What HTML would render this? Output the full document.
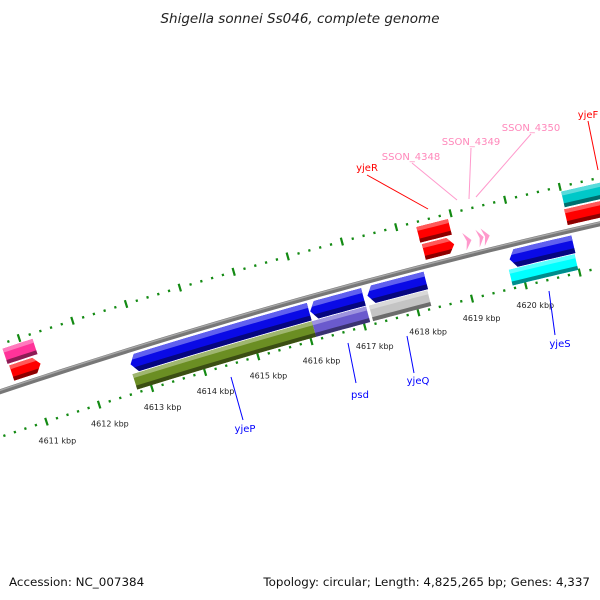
<!DOCTYPE html>
<html><head><meta charset="utf-8">
<style>
html,body{margin:0;padding:0;background:#fff;}
svg{display:block;font-family:"DejaVu Sans","Liberation Sans",sans-serif;}
</style></head>
<body>
<svg id="map" width="600" height="600" viewBox="0 0 600 600" xmlns="http://www.w3.org/2000/svg">
<defs id="defs"></defs>
<text x="300" y="23" text-anchor="middle" font-size="13.5" font-style="italic" fill="#222">Shigella sonnei Ss046, complete genome</text>
<g id="rulers"></g>
<g id="backbone"></g>
<g id="features"></g>
<g id="labels">
 <line x1="231" y1="377" x2="243" y2="420" stroke="#0000ff" stroke-width="1"/>
 <text x="245" y="432" text-anchor="middle" font-size="10" fill="#0000ff">yjeP</text>
 <line x1="348" y1="343" x2="356" y2="383" stroke="#0000ff" stroke-width="1"/>
 <text x="360" y="398" text-anchor="middle" font-size="10" fill="#0000ff">psd</text>
 <line x1="407" y1="336" x2="414" y2="373" stroke="#0000ff" stroke-width="1"/>
 <text x="418" y="384" text-anchor="middle" font-size="10" fill="#0000ff">yjeQ</text>
 <line x1="549" y1="291" x2="555" y2="335" stroke="#0000ff" stroke-width="1"/>
 <text x="560" y="347" text-anchor="middle" font-size="10" fill="#0000ff">yjeS</text>
 <line x1="367" y1="175" x2="428" y2="209" stroke="#ff0000" stroke-width="1"/>
 <text x="367" y="171" text-anchor="middle" font-size="10" fill="#ff0000">yjeR</text>
 <line x1="412" y1="163" x2="457" y2="200" stroke="#ff99cc" stroke-width="1"/>
 <text x="411" y="160" text-anchor="middle" font-size="10" fill="#ff88bb">SSON_4348</text>
 <line x1="471" y1="148" x2="469" y2="199" stroke="#ff99cc" stroke-width="1"/>
 <text x="471" y="145" text-anchor="middle" font-size="10" fill="#ff88bb">SSON_4349</text>
 <line x1="531" y1="134" x2="476" y2="197" stroke="#ff99cc" stroke-width="1"/>
 <text x="531" y="131" text-anchor="middle" font-size="10" fill="#ff88bb">SSON_4350</text>
 <line x1="588" y1="121" x2="598" y2="170" stroke="#ff0000" stroke-width="1"/>
 <text x="588" y="118" text-anchor="middle" font-size="10" fill="#ff0000">yjeF</text>
</g>
<text x="9" y="586" font-size="11.9" fill="#111">Accession: NC_007384</text>
<text x="590" y="586" text-anchor="end" font-size="11.9" fill="#111">Topology: circular; Length: 4,825,265 bp; Genes: 4,337</text>
</svg>
<script>
// ---- data ----
var tickLabelsKbp = [4611, 4612, 4613, 4614, 4615, 4616, 4617, 4618, 4619, 4620];
var tickStartBp = 4609600;
var tickEndBp = 4622400;
var tickStepBp = 200;
var featureNames = ["pink-left","red-left","yjeP-cds","yjeP-gene","psd-cds","psd-gene","yjeQ-cds","yjeQ-gene","yjeS-cds","yjeS-gene","yjeR-gene","yjeR-cds","SSON_4348","SSON_4349","SSON_4350","yjeF-gene","yjeF-cds"];
var featureStarts = [4610662,4610681,4612757,4612738,4616123,4616104,4617189,4617170,4619826,4619769,4618348,4618367,4619115,4619358,4619452,4621004,4620985];
var featureEnds   = [4611224,4611224,4616104,4616104,4617114,4617114,4618273,4618255,4621004,4620985,4618928,4618928,4619246,4619470,4619582,4621845,4621752];
var featureStrand = [1,1,-1,-1,-1,-1,-1,-1,-1,-1,1,1,1,1,1,1,1];
var featureLane   = [2,1,1,2,1,2,1,2,1,2,2,1,1,1,1,2,1];
var featureShape  = ["box","arrow","arrow","box","arrow","box","arrow","box","arrow","box","box","arrow","head","head","head","box","arrow"];
var featureColor  = ["#ff3399","#ff0000","#0a0ae6","#6b8e23","#0a0ae6","#6a5acd","#0a0ae6","#c4c4c4","#0a0ae6","#00ffff","#ff0000","#ff0000","#ff99cc","#ff99cc","#ff99cc","#00c8c8","#ff0000"];

// ---- geometry ----
var cx = 1997, cy = 6370, R = 6303;
var phiA = -Math.acos((152 - cx) / (R - 43));
var phiB = -Math.acos((205 - cx) / (R - 43));
var radPerBp = (phiB - phiA) / 1000;
function phi(bp){ return phiA + (bp - 4613000) * radPerBp; }
function P(bp, off){ var a = phi(bp), r = R + off; return [cx + r*Math.cos(a), cy + r*Math.sin(a)]; }
var NS = "http://www.w3.org/2000/svg";
function mk(tag, attrs, parent){ var e = document.createElementNS(NS, tag); for (var k in attrs) e.setAttribute(k, attrs[k]); parent.appendChild(e); return e; }
function ptsStr(pts){ return pts.map(function(p){return p[0].toFixed(2)+','+p[1].toFixed(2);}).join(' '); }
function band(b1, b2, oa, ob){ var pts=[]; for (var j=0;j<=10;j++) pts.push(P(b1+(b2-b1)*j/10, oa)); for (var j=10;j>=0;j--) pts.push(P(b1+(b2-b1)*j/10, ob)); return pts; }

// rulers
var rulers = document.getElementById('rulers');
[45, -43].forEach(function(ro){
  for (var bp = tickStartBp; bp <= tickEndBp; bp += tickStepBp) {
    var major = (bp % 1000 === 0);
    var h = major ? 4 : 1.2;
    var a = P(bp, ro - h), b = P(bp, ro + h);
    var t = mk('line', {x1:a[0], y1:a[1], x2:b[0], y2:b[1], stroke:'#138a13', 'stroke-width': 2.2}, rulers);
    
    
  }
});
tickLabelsKbp.forEach(function(kb){
  var p = P(kb*1000, -62);
  var t = mk('text', {x:p[0]+5, y:p[1]+4, 'text-anchor':'middle', 'font-size':8, fill:'#222'}, rulers);
  t.textContent = kb + ' kbp';
  
  
});

// backbone
var bb = document.getElementById('backbone');
function arcPath(b1, b2, off){ var s = ''; for (var i = 0; i <= 40; i++){ var p = P(b1 + (b2-b1)*i/40, off); s += (i?'L':'M') + p[0].toFixed(2) + ' ' + p[1].toFixed(2); } return s; }
var bbl = mk('path', {d: arcPath(tickStartBp, tickEndBp, 0), stroke:'#777', 'stroke-width':5, fill:'none'}, bb);


var bbh = mk('path', {d: arcPath(tickStartBp, tickEndBp, 1.3), stroke:'#a6a6a6', 'stroke-width':1.4, fill:'none'}, bb);



// features
var defs = document.getElementById('defs');
function shade(hex, f){ var n = parseInt(hex.slice(1),16); var r=(n>>16)&255,g=(n>>8)&255,b=n&255;
  function c(v){ return Math.max(0,Math.min(255,Math.round(f>0? v+(255-v)*f : v*(1+f)))); }
  return 'rgb('+c(r)+','+c(g)+','+c(b)+')'; }
var fg = document.getElementById('features');
var headBp = 110;
for (var i = 0; i < featureNames.length; i++){
  var col = featureColor[i];
  var s = featureStrand[i], lane = featureLane[i];
  var inner = lane === 1 ? 6 : 24, outer = inner + 16;
  var o1 = s * inner, o2 = s * outer, om = s * (inner + 8);
  var hi = Math.max(o1, o2), lo = Math.min(o1, o2);
  var b1 = featureStarts[i], b2 = featureEnds[i], pts = [];
  var shp = featureShape[i];
  if (shp === 'box'){
    pts = band(b1, b2, o1, o2);
  } else if (shp === 'head'){
    if (s > 0) pts = [P(b1, o1-1), P(b2, om), P(b1, o2+1), P(b1+(b2-b1)*0.35, om)];
    else pts = [P(b2, o1+1), P(b1, om), P(b2, o2-1), P(b2-(b2-b1)*0.35, om)];
  } else {
    if (s > 0){
      var e = b2 - headBp;
      for (var j=0;j<=10;j++) pts.push(P(b1+(e-b1)*j/10, o1));
      pts.push(P(b2, om));
      for (var j=10;j>=0;j--) pts.push(P(b1+(e-b1)*j/10, o2));
    } else {
      var st = b1 + headBp;
      for (var j=0;j<=10;j++) pts.push(P(st+(b2-st)*j/10, o1 + 1));
      pts.push(P(b2, o1 + 1)); pts.push(P(b2, o2 - 1));
      for (var j=10;j>=0;j--) pts.push(P(st+(b2-st)*j/10, o2 - 1));
      pts.push(P(b1, om));
    }
  }
  var cp = mk('clipPath', {id:'c'+i}, defs);
  mk('polygon', {points: ptsStr(pts)}, cp);
  var g = mk('g', {}, fg);
  
  
  mk('polygon', {points: ptsStr(pts), fill: col}, g);
  if (shp !== 'head'){
    mk('polygon', {points: ptsStr(band(b1-200, b2+200, hi - 4, hi + 2)), fill: shade(col, 0.35), 'clip-path':'url(#c'+i+')'}, g);
    mk('polygon', {points: ptsStr(band(b1-200, b2+200, lo - 2, lo + 4)), fill: shade(col, -0.45), 'clip-path':'url(#c'+i+')'}, g);
  }
}
</script>
</body></html>
